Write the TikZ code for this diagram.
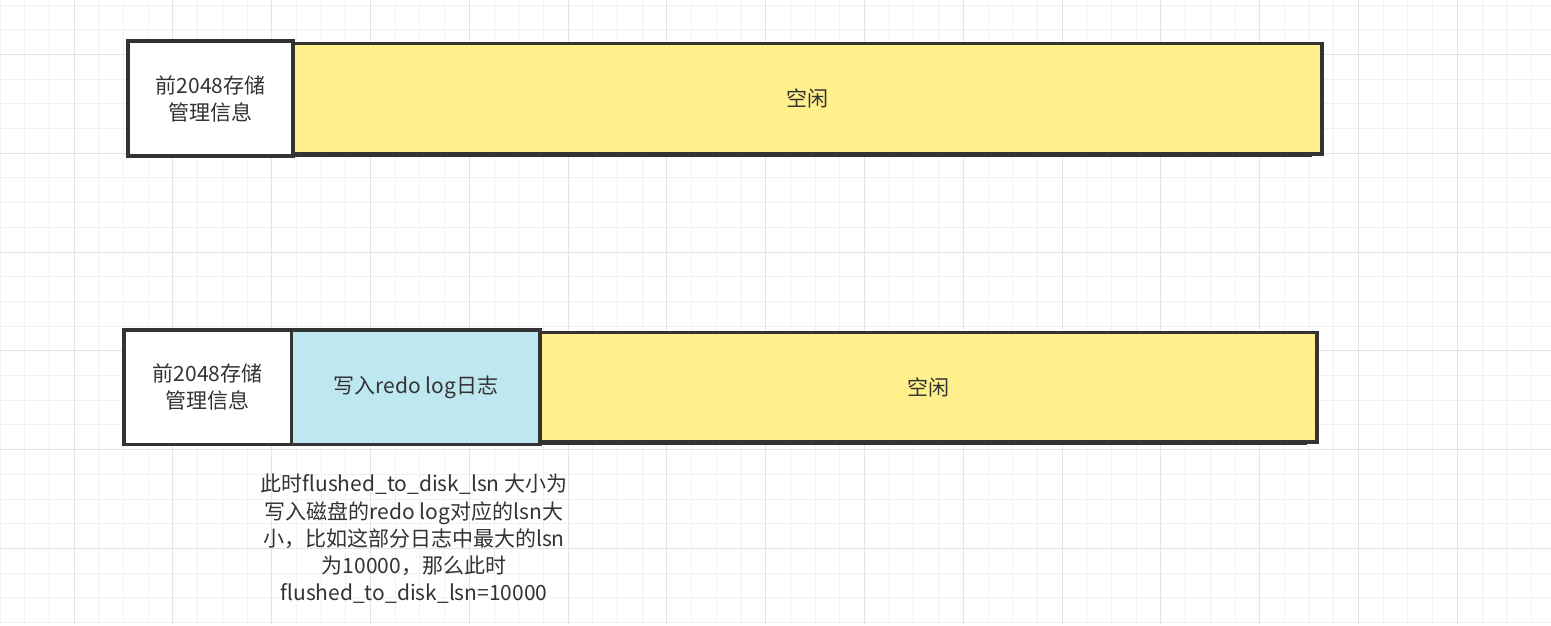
\documentclass[tikz,border=0pt]{standalone}
\usepackage{fontspec}
\setmainfont{Noto Sans CJK SC}
\definecolor{edge}{HTML}{333333}
\definecolor{txt}{HTML}{333333}
\definecolor{yel}{RGB}{255,240,140}
\definecolor{blu}{RGB}{190,232,240}
\definecolor{gridminor}{RGB}{241,241,241}
\definecolor{gridmajor}{RGB}{228,228,228}
\tikzset{
  box/.style={draw=edge, line width=3.5pt, anchor=north west, inner sep=0pt, outer sep=0pt,
    align=center, text=txt, font=\fontsize{21}{27}\selectfont},
  whitebox/.style={box, fill=white},
  yellowbox/.style={box, fill=yel},
  bluebox/.style={box, fill=blu},
  shadowline/.style={draw=edge, line width=2.5pt},
  note/.style={align=center, text=txt, inner sep=0pt, font=\fontsize{21}{27.3}\selectfont},
  gminor/.style={draw=gridminor, line width=1pt},
  gmajor/.style={draw=gridmajor, line width=1pt}
}
\begin{document}
\begin{tikzpicture}[x=1pt,y=-1pt]
\useasboundingbox (0,0) rectangle (1551,625);
\fill[white] (0,0) rectangle (1551,625);
% grid
\foreach \i in {0,...,63} \draw[gminor] (\i*24.7,0) -- (\i*24.7,625);
\foreach \j in {0,...,25} \draw[gminor] (0,5+\j*24.7) -- (1551,5+\j*24.7);
\foreach \i in {3,7,...,63} \draw[gmajor] (\i*24.7,0) -- (\i*24.7,625);
\foreach \j in {2,6,...,26} \draw[gmajor] (0,5+\j*24.7) -- (1551,5+\j*24.7);
% top row
\node[yellowbox, minimum width=1029pt, minimum height=110.5pt] (B) at (293,43.5) {空闲};
\draw[shadowline] ([yshift=-2pt]B.south west) -- ([xshift=-10pt,yshift=-2pt]B.south east);
\node[whitebox, minimum width=165pt, minimum height=115pt] (A) at (128,41) {前2048存储\\管理信息};
% bottom row
\node[yellowbox, minimum width=777pt, minimum height=109.5pt] (E) at (540,332.5) {空闲};
\draw[shadowline] ([yshift=-2pt]E.south west) -- ([xshift=-10pt,yshift=-2pt]E.south east);
\node[bluebox, minimum width=248.5pt, minimum height=114.5pt] (D) at (291.5,330) {写入redo log日志};
\node[whitebox, minimum width=167.5pt, minimum height=114.5pt] (C) at (124,330) {前2048存储\\管理信息};
% note
\node[note] (N) at (414,539) {此时flushed\_to\_disk\_lsn 大小为\\写入磁盘的redo log对应的lsn大\\小，比如这部分日志中最大的lsn\\为10000，那么此时\\flushed\_to\_disk\_lsn=10000};
\end{tikzpicture}
\end{document}
